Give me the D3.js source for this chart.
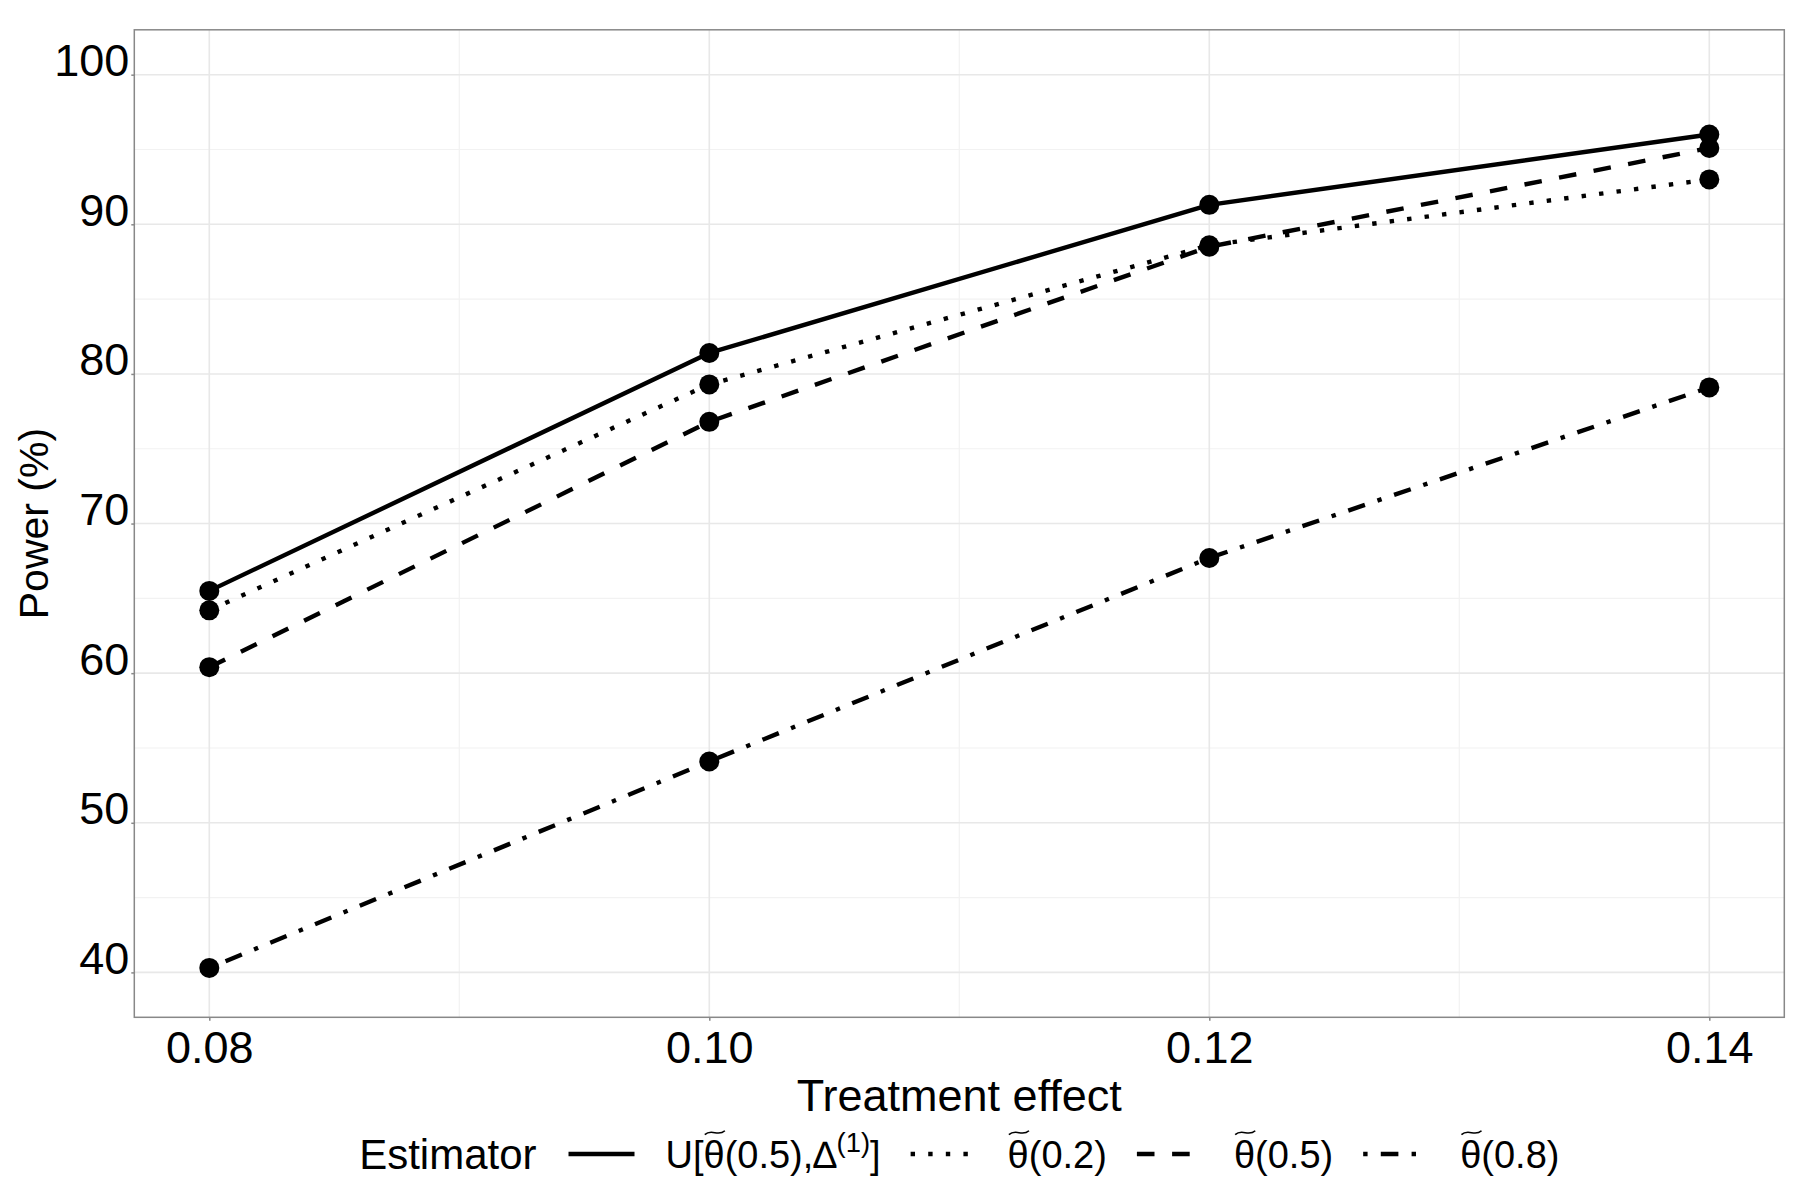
<!DOCTYPE html>
<html>
<head>
<meta charset="utf-8">
<script src="https://cdn.jsdelivr.net/npm/d3@7/dist/d3.min.js"></script>
<style>
  html, body { margin: 0; padding: 0; background: #fff; }
  svg { display: block; }
  text { font-family: "Liberation Sans", Arial, sans-serif; fill: #000; }
</style>
</head>
<body>
<svg id="chart" width="1800" height="1200"></svg>
<script>
// ---------------- data ----------------
const effects = [0.08, 0.10, 0.12, 0.14];
const xTicks = [0.08, 0.10, 0.12, 0.14];
const xTickLabels = ["0.08", "0.10", "0.12", "0.14"];
const xMinor = [0.09, 0.11, 0.13];
const yTicks = [40, 50, 60, 70, 80, 90, 100];
const yTickLabels = ["40", "50", "60", "70", "80", "90", "100"];
const yMinor = [45, 55, 65, 75, 85, 95];

const seriesNames = ["U[θ\u0303(0.5),∆^{(1)}]", "θ\u0303(0.2)", "θ\u0303(0.5)", "θ\u0303(0.8)"];
const powerU   = [65.5, 81.4, 91.3, 96.0];
const power02  = [64.2, 79.3, 88.6, 93.0];
const power05  = [60.4, 76.8, 88.5, 95.1];
const power08  = [40.3, 54.1, 67.7, 79.1];
const seriesValues = [powerU, power02, power05, power08];

const xTitle = "Treatment effect";
const yTitle = "Power (%)";
const legendTitle = "Estimator";

// ---------------- layout / style ----------------
const W = 1800, H = 1200;
const panel = { left: 134.3, right: 1784.3, top: 29.8, bottom: 1017.3 };
const lw = 4.4;
const dashes = [null, [lw * 1, lw * 3], [lw * 4, lw * 4], [lw * 1, lw * 3, lw * 4, lw * 3]];
const tickFont = 45, xTitleFont = 45, yTitleFont = 41, legendTitleFont = 42, legendFont = 38;

const svg = d3.select("#chart");
svg.append("rect").attr("width", W).attr("height", H).attr("fill", "#fff");

const x = d3.scaleLinear().domain([0.077, 0.143]).range([panel.left, panel.right]);
const y = d3.scaleLinear().domain([37, 103]).range([panel.bottom, panel.top]);

// grid
const grid = svg.append("g");
grid.selectAll(".ymin").data(yMinor).join("line")
  .attr("x1", panel.left).attr("x2", panel.right)
  .attr("y1", d => y(d)).attr("y2", d => y(d))
  .attr("stroke", "#f2f2f2").attr("stroke-width", 1.2);
grid.selectAll(".xmin").data(xMinor).join("line")
  .attr("y1", panel.top).attr("y2", panel.bottom)
  .attr("x1", d => x(d)).attr("x2", d => x(d))
  .attr("stroke", "#f2f2f2").attr("stroke-width", 1.2);
grid.selectAll(".ymaj").data(yTicks).join("line")
  .attr("x1", panel.left).attr("x2", panel.right)
  .attr("y1", d => y(d)).attr("y2", d => y(d))
  .attr("stroke", "#e8e8e8").attr("stroke-width", 1.6);
grid.selectAll(".xmaj").data(xTicks).join("line")
  .attr("y1", panel.top).attr("y2", panel.bottom)
  .attr("x1", d => x(d)).attr("x2", d => x(d))
  .attr("stroke", "#e8e8e8").attr("stroke-width", 1.6);

// axes (d3 axis for ticks + labels)
const xAxis = d3.axisBottom(x).tickValues(xTicks)
  .tickFormat((d, i) => xTickLabels[i]).tickSize(3.5).tickPadding(10);
const gx = svg.append("g").attr("transform", `translate(0,${panel.bottom})`).call(xAxis);
gx.select(".domain").remove();
gx.selectAll(".tick line").attr("stroke", "#888").attr("stroke-width", 1.5);
gx.selectAll(".tick text").attr("font-size", tickFont).attr("fill", "#000")
  .attr("font-family", "Liberation Sans, Arial, sans-serif")
  .attr("dy", null).attr("y", 46);

const yAxis = d3.axisLeft(y).tickValues(yTicks)
  .tickFormat((d, i) => yTickLabels[i]).tickSize(3).tickPadding(5);
const gy = svg.append("g").attr("transform", `translate(${panel.left},0)`).call(yAxis);
gy.select(".domain").remove();
gy.selectAll(".tick line").attr("stroke", "#888").attr("stroke-width", 1.5);
gy.selectAll(".tick text").attr("font-size", tickFont).attr("fill", "#000")
  .attr("font-family", "Liberation Sans, Arial, sans-serif")
  .attr("dy", null).attr("y", 1).attr("x", -5);

// panel border
svg.append("rect")
  .attr("x", panel.left).attr("y", panel.top)
  .attr("width", panel.right - panel.left).attr("height", panel.bottom - panel.top)
  .attr("fill", "none").attr("stroke", "#888").attr("stroke-width", 1.5);

// lines
const line = d3.line().x((d, i) => x(effects[i])).y(d => y(d));
const gl = svg.append("g");
seriesValues.forEach((vals, si) => {
  gl.append("path").datum(vals)
    .attr("d", line)
    .attr("fill", "none").attr("stroke", "#000").attr("stroke-width", lw)
    .attr("stroke-linecap", "butt").attr("stroke-linejoin", "round")
    .attr("stroke-dasharray", dashes[si] ? dashes[si].join(",") : null);
});
// points
seriesValues.forEach((vals) => {
  gl.selectAll(null).data(vals).join("circle")
    .attr("cx", (d, i) => x(effects[i])).attr("cy", d => y(d))
    .attr("r", 10).attr("fill", "#000");
});

// axis titles
svg.append("text").attr("x", (panel.left + panel.right) / 2).attr("y", 1111)
  .attr("text-anchor", "middle").attr("font-size", xTitleFont).text(xTitle);
svg.append("text")
  .attr("transform", `translate(48,${(panel.top + panel.bottom) / 2}) rotate(-90)`)
  .attr("text-anchor", "middle").attr("font-size", yTitleFont).text(yTitle);

// ---------------- legend ----------------
function parseLabel(s) {
  const segs = [];
  let i = 0;
  while (i < s.length) {
    if (s[i] === "^" && s[i + 1] === "{") {
      const j = s.indexOf("}", i);
      segs.push({ t: s.slice(i + 2, j), sup: true });
      i = j + 1;
    } else if (s[i + 1] === "\u0303") {
      segs.push({ t: s[i], tilde: true });
      i += 2;
    } else {
      const last = segs[segs.length - 1];
      if (last && !last.sup && !last.tilde) last.t += s[i];
      else segs.push({ t: s[i] });
      i += 1;
    }
  }
  return segs;
}

const legendY = 1154;
const baseY = legendY + 14;
const gLeg = svg.append("g");
const titleText = gLeg.append("text").attr("y", baseY + 1).attr("font-size", legendTitleFont).text(legendTitle);
const keyW = 66, gapTitle = 32, gapKeyLabel = 31, gapItem = 30;

const items = seriesNames.map((name, si) => {
  const g = gLeg.append("g");
  const key = g.append("line").attr("y1", legendY).attr("y2", legendY)
    .attr("stroke", "#000").attr("stroke-width", lw).attr("stroke-linecap", "butt")
    .attr("stroke-dasharray", dashes[si] ? dashes[si].join(",") : null);
  const txt = g.append("text").attr("y", baseY).attr("font-size", legendFont);
  const segs = parseLabel(name);
  let idx = 0;
  const tildeIdx = [];
  segs.forEach((sg, k) => {
    const ts = txt.append("tspan").text(sg.t);
    if (sg.sup) {
      ts.attr("font-size", legendFont * 0.72).attr("dy", -legendFont * 0.42);
    } else if (k > 0 && segs[k - 1].sup) {
      ts.attr("dy", legendFont * 0.42);
    }
    if (sg.tilde) tildeIdx.push(idx);
    idx += sg.t.length;
  });
  return { g, key, txt, tildeIdx };
});

// measure and place
const titleW = titleText.node().getComputedTextLength();
let total = titleW + gapTitle;
items.forEach((it, k) => {
  it.w = it.txt.node().getBBox().width;
  total += keyW + gapKeyLabel + it.w + (k < items.length - 1 ? gapItem : 0);
});
let cx = (panel.left + panel.right) / 2 - total / 2;
titleText.attr("x", cx);
cx += titleW + gapTitle;
items.forEach(it => {
  it.key.attr("x1", cx).attr("x2", cx + keyW);
  cx += keyW + gapKeyLabel;
  it.txt.attr("x", cx);
  cx += it.w + gapItem;
  // tildes over theta
  it.tildeIdx.forEach(ci => {
    const ext = it.txt.node().getExtentOfChar(ci);
    const w = ext.width * 0.95;
    const x0 = ext.x + ext.width * 0.06;
    const yc = baseY - legendFont * 0.93;
    const a = legendFont * 0.05;
    it.g.append("path")
      .attr("d", `M${x0},${yc + a} C${x0 + 0.35 * w},${yc - 2.4 * a} ${x0 + 0.65 * w},${yc + 2.4 * a} ${x0 + w},${yc - a}`)
      .attr("fill", "none").attr("stroke", "#000").attr("stroke-width", 1.6);
  });
});
</script>
</body>
</html>
